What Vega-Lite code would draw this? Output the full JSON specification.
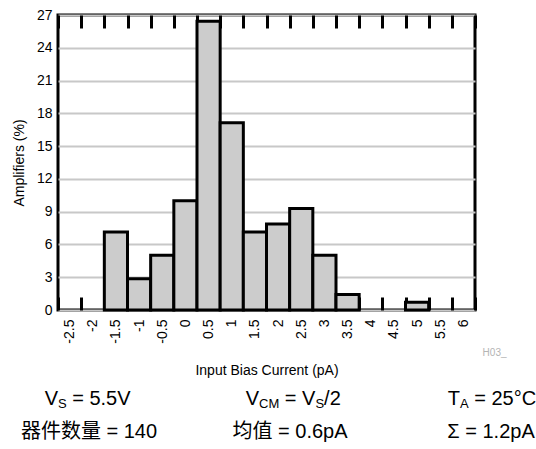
{
  "$schema": "https://vega.github.io/schema/vega-lite/v6.json",
  "padding": {"left": 10, "top": 6, "right": 0, "bottom": 0},
  "spacing": 2,
  "config": {"font": "Liberation Sans", "view": {"stroke": null}},
  "datasets": {
    "bins": [
      {"bin": "-1.5", "pct": 7.14},
      {"bin": "-1", "pct": 2.86},
      {"bin": "-0.5", "pct": 5.0},
      {"bin": "0", "pct": 10.0},
      {"bin": "0.5", "pct": 26.43},
      {"bin": "1", "pct": 17.14},
      {"bin": "1.5", "pct": 7.14},
      {"bin": "2", "pct": 7.86},
      {"bin": "2.5", "pct": 9.29},
      {"bin": "3", "pct": 5.0},
      {"bin": "3.5", "pct": 1.43},
      {"bin": "5", "pct": 0.71}
    ],
    "notes": [
      {"col": "c1", "row": "r1", "kind": "pre", "t": "V"},
      {"col": "c1", "row": "r1", "kind": "sub", "t": "S"},
      {"col": "c1", "row": "r1", "kind": "post", "t": "= 5.5V"},
      {"col": "c2", "row": "r1", "kind": "pre", "t": "V"},
      {"col": "c2", "row": "r1", "kind": "sub", "t": "CM"},
      {"col": "c2", "row": "r1", "kind": "postL", "t": "= V"},
      {"col": "c2", "row": "r1", "kind": "sub2", "t": "S"},
      {"col": "c2", "row": "r1", "kind": "post2", "t": "/2"},
      {"col": "c3", "row": "r1", "kind": "pre", "t": "T"},
      {"col": "c3", "row": "r1", "kind": "sub", "t": "A"},
      {"col": "c3", "row": "r1", "kind": "post", "t": "= 25°C"},
      {"col": "c1", "row": "r2", "kind": "full", "t": "器件数量 = 140"},
      {"col": "c2", "row": "r2", "kind": "full", "t": "均值 = 0.6pA"},
      {"col": "c3", "row": "r2", "kind": "full", "t": "Σ = 1.2pA"}
    ]
  },
  "vconcat": [
    {
      "width": 417,
      "height": 295,
      "data": {"name": "bins"},
      "view": {"stroke": "black", "strokeWidth": 3},
      "title": {"text": "H03_", "orient": "bottom", "anchor": "end", "fontSize": 10, "fontWeight": "normal", "color": "#b4b4b4", "offset": -29, "dx": 30},
      "resolve": {"axis": {"x": "independent"}},
      "encoding": {
        "y": {
          "field": "pct", "type": "quantitative",
          "scale": {"domain": [0, 27], "nice": false},
          "axis": {"values": [0,3,6,9,12,15,18,21,24,27], "grid": true, "gridColor": "#c8c8c8", "gridWidth": 2, "ticks": false, "domain": false, "labelFontSize": 14, "labelColor": "black", "labelPadding": 6, "title": "Amplifiers (%)", "titleFontSize": 14, "titleFontWeight": "normal", "titleColor": "black", "titlePadding": 10}
        }
      },
      "layer": [
        {
          "mark": {"type": "bar", "fill": "#cccccc", "stroke": "black", "strokeWidth": 3},
          "encoding": {
            "x": {
              "field": "bin", "type": "ordinal", "sort": null,
              "scale": {"domain": ["-2.5","-2","-1.5","-1","-0.5","0","0.5","1","1.5","2","2.5","3","3.5","4","4.5","5","5.5","6"], "paddingInner": 0, "paddingOuter": 0},
              "axis": {"title": "Input Bias Current (pA)", "labelAngle": -90, "labelFontSize": 14, "labelColor": "black", "labelPadding": 22, "tickBand": "extent", "tickSize": -13, "tickWidth": 3, "tickColor": "black", "domain": false, "grid": false, "titleFontSize": 14, "titleFontWeight": "normal", "titleColor": "black", "titlePadding": 20}
            }
          }
        },
        {
          "mark": {"type": "point", "opacity": 0},
          "encoding": {
            "x": {
              "field": "bin", "type": "ordinal", "sort": null,
              "axis": {"orient": "top", "labels": false, "title": null, "domain": false, "grid": false, "tickBand": "extent", "tickSize": -13, "tickWidth": 3, "tickColor": "black"}
            }
          }
        }
      ]
    },
    {
      "width": 402,
      "height": 66,
      "data": {"name": "notes"},
      "encoding": {
        "x": {"field": "col", "type": "ordinal", "scale": {"type": "point", "padding": 0, "domain": ["c1","c2","c3"]}, "axis": null},
        "y": {"field": "row", "type": "ordinal", "scale": {"type": "point", "padding": 0.5, "domain": ["r1","r2"]}, "axis": null},
        "text": {"field": "t"}
      },
      "layer": [
        {"transform": [{"filter": "datum.kind === 'pre'"}], "mark": {"type": "text", "align": "right", "baseline": "alphabetic", "dy": 7, "fontSize": 20, "color": "black"}},
        {"transform": [{"filter": "datum.kind === 'sub'"}], "mark": {"type": "text", "align": "left", "baseline": "alphabetic", "dy": 10, "fontSize": 13, "color": "black"}},
        {"transform": [{"filter": "datum.kind === 'post'"}], "mark": {"type": "text", "align": "left", "baseline": "alphabetic", "dy": 7, "dx": 14.2, "fontSize": 20, "color": "black"}},
        {"transform": [{"filter": "datum.kind === 'postL'"}], "mark": {"type": "text", "align": "left", "baseline": "alphabetic", "dy": 7, "dx": 25.8, "fontSize": 20, "color": "black"}},
        {"transform": [{"filter": "datum.kind === 'sub2'"}], "mark": {"type": "text", "align": "left", "baseline": "alphabetic", "dy": 10, "dx": 56.4, "fontSize": 13, "color": "black"}},
        {"transform": [{"filter": "datum.kind === 'post2'"}], "mark": {"type": "text", "align": "left", "baseline": "alphabetic", "dy": 7, "dx": 65.1, "fontSize": 20, "color": "black"}},
        {"transform": [{"filter": "datum.kind === 'full'"}], "mark": {"type": "text", "align": "center", "baseline": "alphabetic", "dy": 7, "dx": 31, "fontSize": 20, "color": "black", "font": "Liberation Sans, Noto Sans CJK SC"}}
      ]
    }
  ]
}
